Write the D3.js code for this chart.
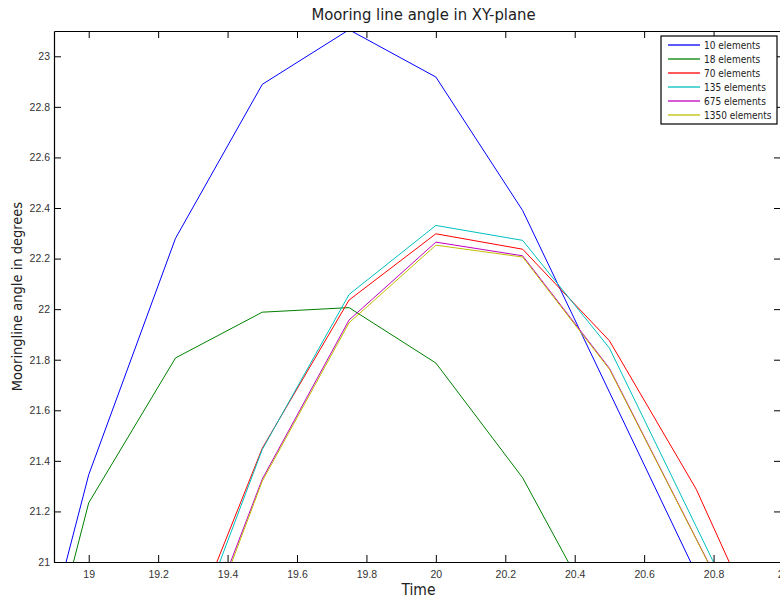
<!DOCTYPE html>
<html>
<head>
<meta charset="utf-8">
<script src="https://cdn.jsdelivr.net/npm/d3@7"></script>
<style>
  body { margin: 0; background: #fff; }
  svg { display: block; font-family: "DejaVu Sans Condensed", "DejaVu Sans", sans-serif; }
  .axis path, .axis line { stroke: #000; }
  .axis text { fill: #333; font-size: 10.5px; }
</style>
</head>
<body>
<svg width="780" height="600"></svg>
<script>
// time steps and mooring line angle per mesh size
const time = [18.75, 19, 19.25, 19.5, 19.75, 20, 20.25, 20.5, 20.75, 21]
const e10 = [20.02, 21.345, 22.28, 22.889, 23.105, 22.918, 22.39, 21.672, 20.954, 20.2]
const e18 = [19.9, 21.234, 21.807, 21.988, 22.006, 21.787, 21.333, 20.70, 20.2, 19.8]
const e70 = [19.5, 20.0, 20.59, 21.45, 22.036, 22.298, 22.237, 21.875, 21.288, 20.53]
const e135 = [19.4, 19.9, 20.537, 21.445, 22.058, 22.331, 22.272, 21.846, 21.14, 20.435]
const e675 = [19.3, 19.8, 20.43, 21.328, 21.957, 22.265, 22.211, 21.766, 21.092, 20.418]
const e1350 = [19.3, 19.8, 20.405, 21.32, 21.946, 22.253, 22.206, 21.762, 21.09, 20.41]
const labels = ['10 elements', '18 elements', '70 elements', '135 elements', '675 elements', '1350 elements']
const colors = ['#0000ff', '#008000', '#ff0000', '#00bfbf', '#bf00bf', '#bfbf00']
const xTicks = [19, 19.2, 19.4, 19.6, 19.8, 20, 20.2, 20.4, 20.6, 20.8, 21]
const yTicks = [21, 21.2, 21.4, 21.6, 21.8, 22, 22.2, 22.4, 22.6, 22.8, 23]

const series = [e10, e18, e70, e135, e675, e1350]

let svg = d3.select('svg')
const padLeft = 54, padRight = 783, padTop = 31, padBottom = 562
const TICK = 7

let x = d3.scaleLinear().domain([18.9, 21]).range([padLeft, padRight])
let y = d3.scaleLinear().domain([21, 23.1]).range([padBottom, padTop])
let fmt = d => String(+d.toFixed(1))

svg.append('defs').append('clipPath').attr('id', 'clip')
    .append('rect')
    .attr('x', padLeft).attr('y', padTop)
    .attr('width', padRight - padLeft).attr('height', padBottom - padTop)

let line = d3.line()
    .x((d, i) => x(time[i]))
    .y(d => y(d))

svg.append('g')
    .attr('clip-path', 'url(#clip)')
    .selectAll('path')
    .data(series)
    .enter()
    .append('path')
    .attr('d', line)
    .attr('fill', 'none')
    .style('stroke', (d, i) => colors[i])
    .attr('stroke-width', 1)

// axes box, ticks pointing inward
svg.append('g').attr('class', 'axis')
    .attr('transform', `translate(0,${padBottom})`)
    .call(d3.axisBottom(x).tickValues(xTicks).tickFormat(fmt).tickSizeInner(-TICK).tickSizeOuter(0).tickPadding(9))
svg.append('g').attr('class', 'axis')
    .attr('transform', `translate(0,${padTop})`)
    .call(d3.axisTop(x).tickValues(xTicks).tickFormat('').tickSizeInner(-TICK).tickSizeOuter(0))
svg.append('g').attr('class', 'axis')
    .attr('transform', `translate(${padLeft},0)`)
    .call(d3.axisLeft(y).tickValues(yTicks).tickFormat(fmt).tickSizeInner(-TICK).tickSizeOuter(0).tickPadding(4))
svg.append('g').attr('class', 'axis')
    .attr('transform', `translate(${padRight - 2},0)`)
    .call(d3.axisRight(y).tickValues(yTicks).tickFormat('').tickSizeInner(-TICK).tickSizeOuter(0))
svg.selectAll('.axis path').attr('stroke-width', 1.2)

// titles
svg.append('text')
    .attr('x', (padLeft + padRight) / 2 + 5).attr('y', 20)
    .attr('text-anchor', 'middle')
    .attr('fill', '#222')
    .style('font-size', '16.5px')
    .text('Mooring line angle in XY-plane')
svg.append('text')
    .attr('x', (padLeft + padRight) / 2).attr('y', 595)
    .attr('text-anchor', 'middle')
    .attr('fill', '#222')
    .style('font-size', '15.5px')
    .text('Time')
svg.append('text')
    .attr('transform', `translate(22,${(padTop + padBottom) / 2}) rotate(-90)`)
    .attr('text-anchor', 'middle')
    .attr('fill', '#222')
    .style('font-size', '14.5px')
    .text('Mooringline angle in degrees')

// legend
let legend = svg.append('g').attr('transform', 'translate(661,36)')
legend.append('rect')
    .attr('width', 116).attr('height', 88)
    .attr('fill', '#fff').attr('stroke', '#000').attr('stroke-width', 1.2)
let rows = legend.selectAll('.row')
    .data(d3.range(labels.length))
    .enter()
    .append('g')
    .attr('class', 'row')
    .attr('transform', i => `translate(0,${9 + i * 14})`)
rows.append('line')
    .attr('x1', 7).attr('x2', 39)
    .style('stroke', i => colors[i])
    .attr('stroke-width', 1.3)
rows.append('text')
    .attr('x', 43).attr('y', 4)
    .attr('fill', '#222')
    .style('font-size', '10px')
    .text(i => labels[i])
</script>
</body>
</html>
